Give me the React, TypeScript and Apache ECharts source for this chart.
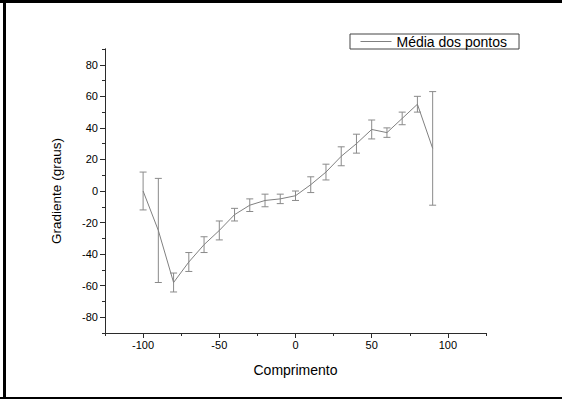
import React, { useEffect, useRef } from "react";
import * as echarts from "echarts";

const positions = [-100, -90, -80, -70, -60, -50, -40, -30, -20, -10, 0, 10, 20, 30, 40, 50, 60, 70, 80, 90];
const means = [0, -25, -58, -45, -34, -25, -15, -9, -6, -5, -3, 4, 12, 22, 30, 39, 37, 46, 55, 27];
const errors = [12, 33, 6, 6, 5, 6, 4, 4, 4, 3, 3, 5, 5, 6, 6, 6, 3, 4, 5, 36];
const xMajor = [-100, -50, 0, 50, 100];
const xMinor = [-125, -75, -25, 25, 75, 125];
const yMajor = [-80, -60, -40, -20, 0, 20, 40, 60, 80];
const yMinor = [-90, -70, -50, -30, -10, 10, 30, 50, 70, 90];
const seriesName = "Média dos pontos";

const FONT = "Liberation Sans, Arial, sans-serif";
const AXIS_COLOR = "#2b2b2b";

export default function App() {
  const ref = useRef<HTMLDivElement>(null);
  useEffect(() => {
    const chart = echarts.init(ref.current!, null, { renderer: "svg" });
    const baseAxis = {
      axisLine: { show: true, onZero: false, lineStyle: { color: AXIS_COLOR, width: 1 } },
      splitLine: { show: false },
    };
    chart.setOption({
      animation: false,
      backgroundColor: "#ffffff",
      textStyle: { fontFamily: FONT },
      grid: { left: 105, right: 76, top: 49, bottom: 66 },
      legend: {
        data: [seriesName],
        left: 350,
        top: 34,
        orient: "horizontal",
        borderColor: "#444",
        borderWidth: 1,
        borderRadius: 0,
        padding: [0, 12, 0, 10],
        itemWidth: 31,
        itemHeight: 13,
        itemGap: 5,
        itemStyle: { opacity: 0 },
        lineStyle: { color: "#808080", width: 1, opacity: 1 },
        textStyle: { fontSize: 14, color: "#000", fontFamily: FONT, lineHeight: 15 },
      },
      xAxis: [
        {
          ...baseAxis,
          type: "value",
          min: -125,
          max: 125,
          interval: 25,
          name: "Comprimento",
          nameLocation: "middle",
          nameGap: 30,
          nameTextStyle: { fontSize: 14, color: "#000", fontFamily: FONT },
          axisTick: { show: true, length: 5, inside: false, customValues: xMajor, lineStyle: { color: AXIS_COLOR } },
          axisLabel: { customValues: xMajor, fontSize: 11, color: "#000", margin: 6, fontFamily: FONT },
        },
        {
          ...baseAxis,
          type: "value",
          position: "bottom",
          min: -125,
          max: 125,
          interval: 25,
          axisTick: { show: true, length: 3, inside: false, customValues: xMinor, lineStyle: { color: AXIS_COLOR } },
          axisLabel: { show: false },
        },
      ],
      yAxis: [
        {
          ...baseAxis,
          type: "value",
          min: -90,
          max: 90,
          interval: 10,
          name: "Gradiente (graus)",
          nameLocation: "middle",
          nameGap: 42,
          nameTextStyle: { fontSize: 13.5, color: "#000", fontFamily: FONT },
          axisTick: { show: true, length: 5, inside: false, customValues: yMajor, lineStyle: { color: AXIS_COLOR } },
          axisLabel: { customValues: yMajor, fontSize: 11, color: "#000", margin: 7, fontFamily: FONT },
        },
        {
          ...baseAxis,
          type: "value",
          position: "left",
          min: -90,
          max: 90,
          interval: 10,
          axisTick: { show: true, length: 3, inside: false, customValues: yMinor, lineStyle: { color: AXIS_COLOR } },
          axisLabel: { show: false },
        },
      ],
      series: [
        {
          name: seriesName,
          type: "line",
          xAxisIndex: 0,
          yAxisIndex: 0,
          symbol: "none",
          lineStyle: { color: "#808080", width: 1 },
          itemStyle: { color: "#808080" },
          data: positions.map((x, i) => [x, means[i]]),
          z: 3,
        },
        {
          name: "err",
          type: "custom",
          xAxisIndex: 0,
          yAxisIndex: 0,
          encode: { x: 0, y: 1 },
          data: positions.map((x, i) => [x, means[i], errors[i]]),
          renderItem: (params: any, api: any) => {
            const x = api.value(0);
            const m = api.value(1);
            const e = api.value(2);
            const top = api.coord([x, m + e]);
            const bot = api.coord([x, m - e]);
            const hw = 3.5;
            const style = { stroke: "#8a8a8a", lineWidth: 1 };
            return {
              type: "group",
              children: [
                { type: "line", shape: { x1: top[0], y1: top[1], x2: bot[0], y2: bot[1] }, style },
                { type: "line", shape: { x1: top[0] - hw, y1: top[1], x2: top[0] + hw, y2: top[1] }, style },
                { type: "line", shape: { x1: bot[0] - hw, y1: bot[1], x2: bot[0] + hw, y2: bot[1] }, style },
              ],
            };
          },
          z: 2,
        },
      ],
      graphic: [
        { type: "rect", left: 0, top: 0, shape: { width: 562, height: 3 }, style: { fill: "#000" } },
        { type: "rect", left: 3, top: 0, shape: { width: 3, height: 399 }, style: { fill: "#000" } },
        { type: "rect", left: 0, top: 397, shape: { width: 562, height: 2 }, style: { fill: "#000" } },
      ],
    });
    return () => chart.dispose();
  }, []);
  return <div ref={ref} style={{ width: 562, height: 399, position: "absolute", left: 0, top: 0 }} />;
}
